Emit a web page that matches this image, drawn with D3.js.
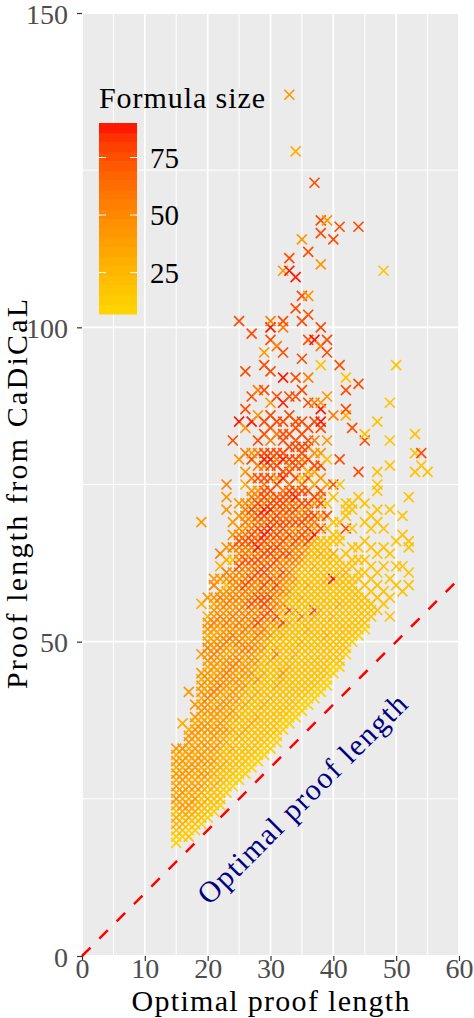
<!DOCTYPE html>
<html>
<head>
<meta charset="utf-8">
<script src="https://cdn.jsdelivr.net/npm/d3@7"></script>
<style>
  body { margin: 0; background: #fff; }
  text { font-family: "Liberation Serif", "Times New Roman", serif; }
</style>
</head>
<body>
<div id="chart"></div>
<script>
// formula size levels
const G = 10, Y = 18, A = 30, O = 42, P = 56, R = 76, D = 88;

const xTicks = [0, 10, 20, 30, 40, 50, 60];
const xMinor = [5, 15, 25, 35, 45, 55];
const yTicks = [0, 50, 100, 150];
const yMinor = [25, 75, 125];
const legendTicks = [25, 50, 75];
const sizeRange = [7, 90];
const refLine = [[0, 0], [60, 60]];

// [optimal proof length, [[proof length from CaDiCaL, formula size], ...]]
const shortProofs = [
  [15, [[18,G],[19,G],[20,Y],[21,A],[22,A],[23,Y],[24,A],[25,O],[26,A],[27,O],[28,A],[29,O],[30,A],[31,O],[32,A],[33,O]]],
  [16, [[19,G],[20,Y],[21,A],[22,Y],[23,A],[24,O],[25,A],[26,O],[27,A],[28,O],[29,O],[30,A],[31,O],[32,A],[33,O],[37,A]]],
  [17, [[19,Y],[20,G],[21,Y],[22,A],[23,A],[24,O],[25,A],[26,A],[27,O],[28,A],[29,O],[30,O],[31,A],[32,O],[33,A],[34,O],[35,O],[36,A],[42,O]]],
  [18, [[20,G],[21,Y],[22,Y],[23,A],[24,A],[25,O],[26,A],[27,O],[28,A],[29,A],[30,O],[31,O],[32,A],[33,O],[34,A],[35,O],[36,O],[37,A],[38,O],[40,O]]],
  [19, [[21,G],[22,Y],[23,Y],[24,A],[25,Y],[26,A],[27,O],[28,A],[29,O],[30,A],[31,O],[32,O],[33,A],[34,O],[35,A],[36,O],[37,O],[38,A],[39,O],[40,O],[41,A],[42,O],[43,O],[44,A],[45,O],[48,O],[56,A],[69,O]]],
  [20, [[22,G],[23,Y],[24,Y],[25,A],[26,Y],[27,A],[28,A],[29,O],[30,A],[31,O],[32,A],[33,O],[34,O],[35,A],[36,O],[37,O],[38,A],[39,O],[40,O],[41,P],[42,O],[43,A],[44,O],[45,O],[46,A],[47,O],[48,O],[49,P],[50,O],[51,A],[52,O],[53,O],[54,A],[57,O]]],
  [21, [[23,G],[24,Y],[25,Y],[26,Y],[27,A],[28,Y],[29,A],[30,A],[31,O],[32,A],[33,O],[34,A],[35,O],[36,O],[37,A],[38,O],[39,O],[40,A],[41,O],[42,P],[43,O],[44,O],[45,A],[46,O],[47,O],[48,P],[49,O],[50,O],[51,A],[52,O],[53,P],[54,O],[55,O],[56,A],[57,O],[59,P],[60,O]]],
  [22, [[24,G],[25,Y],[26,Y],[27,Y],[28,A],[29,Y],[30,A],[31,Y],[32,A],[33,A],[34,O],[35,A],[36,O],[37,O],[38,A],[39,O],[40,O],[41,A],[42,O],[43,P],[44,O],[45,O],[46,A],[47,O],[48,O],[49,P],[50,O],[51,O],[52,A],[53,O],[54,P],[55,O],[56,O],[57,P],[58,O],[60,O],[62,A],[64,P]]]
];

const midProofs = [
  [23, [[26,G],[27,G],[28,Y],[29,Y],[30,Y],[31,A],[32,Y],[33,Y],[34,A],[35,A],[36,O],[37,A],[38,O],[39,A],[40,O],[41,O],[42,A],[43,O],[44,O],[45,P],[46,O],[47,O],[48,A],[49,O],[50,P],[51,O],[52,O],[53,P],[54,O],[55,O],[56,P],[57,O],[58,O],[59,Y],[60,O],[61,P],[63,A],[65,O],[71,O],[73,O],[75,P]]],
  [24, [[27,G],[28,G],[29,Y],[30,Y],[31,Y],[32,Y],[33,A],[34,Y],[35,Y],[36,A],[37,Y],[38,A],[39,O],[40,A],[41,O],[42,O],[43,A],[44,O],[45,O],[46,P],[47,O],[48,O],[49,A],[50,O],[51,P],[52,O],[53,O],[54,P],[55,O],[56,O],[57,P],[58,O],[59,O],[60,P],[61,O],[63,Y],[65,P],[67,O],[69,O],[82,R]]],
  [25, [[28,G],[29,G],[30,Y],[31,Y],[32,Y],[33,Y],[34,Y],[35,A],[36,Y],[37,Y],[38,A],[39,Y],[40,A],[41,O],[42,A],[43,O],[44,O],[45,A],[46,O],[47,P],[48,O],[49,O],[50,P],[51,O],[52,O],[53,P],[54,O],[55,P],[56,O],[57,P],[58,O],[59,P],[60,O],[61,P],[62,R],[63,P],[64,O],[65,P],[66,R],[67,P],[68,O],[70,O],[72,O],[79,O],[85,D],[101,R]]],
  [26, [[29,G],[30,G],[31,Y],[32,Y],[33,Y],[34,Y],[35,Y],[36,A],[37,Y],[38,Y],[39,Y],[40,A],[41,Y],[42,A],[43,O],[44,A],[45,O],[46,O],[47,A],[48,O],[49,P],[50,O],[51,O],[52,P],[53,O],[54,P],[55,O],[56,P],[57,O],[58,P],[59,R],[60,P],[61,O],[62,P],[63,R],[64,P],[65,P],[66,R],[67,P],[68,O],[69,P],[70,O],[71,P],[72,O],[75,A],[77,O],[80,P],[84,O],[87,R],[93,R]]],
  [27, [[30,G],[31,G],[32,Y],[33,Y],[34,Y],[35,Y],[36,Y],[37,A],[38,Y],[39,Y],[40,Y],[41,A],[42,Y],[43,Y],[44,A],[45,O],[46,A],[47,O],[48,O],[49,P],[50,O],[51,A],[52,O],[53,P],[54,O],[55,P],[56,R],[57,P],[58,O],[59,P],[60,R],[61,P],[62,P],[63,R],[64,O],[65,P],[66,R],[67,R],[68,P],[69,O],[70,P],[71,R],[72,O],[73,P],[74,O],[76,P],[79,R],[80,O],[85,D],[89,R],[99,R]]],
  [28, [[31,G],[32,G],[33,Y],[34,Y],[35,Y],[36,Y],[37,Y],[38,A],[39,Y],[40,Y],[41,Y],[42,A],[43,Y],[44,O],[45,Y],[46,A],[47,O],[48,A],[49,O],[50,O],[51,P],[52,O],[53,R],[54,P],[55,O],[56,P],[57,R],[58,P],[59,O],[60,P],[61,R],[62,P],[63,R],[64,P],[65,D],[66,R],[67,P],[68,R],[69,P],[70,R],[71,P],[72,R],[73,P],[74,O],[76,R],[78,P],[80,P],[82,R],[86,O],[90,P]]],
  [29, [[32,G],[33,G],[34,Y],[35,Y],[36,Y],[37,Y],[38,Y],[39,Y],[40,A],[41,Y],[42,Y],[43,Y],[44,Y],[45,A],[46,Y],[47,Y],[48,A],[49,O],[50,A],[51,O],[52,P],[53,O],[54,R],[55,P],[56,R],[57,R],[58,P],[59,R],[60,P],[61,R],[62,R],[63,P],[64,R],[65,P],[66,R],[67,D],[68,R],[69,P],[70,R],[71,D],[72,P],[73,R],[74,R],[75,P],[76,R],[78,P],[79,D],[80,R],[83,R],[85,R],[90,R],[94,R],[96,O]]],
  [30, [[33,G],[34,G],[35,Y],[36,Y],[37,Y],[38,Y],[39,Y],[40,Y],[41,A],[42,Y],[43,Y],[44,Y],[45,Y],[46,Y],[47,A],[48,Y],[49,Y],[50,A],[51,O],[52,A],[53,O],[54,P],[55,R],[56,P],[57,R],[58,P],[59,O],[60,R],[61,P],[62,R],[63,P],[64,R],[65,R],[66,P],[67,R],[68,D],[69,R],[70,P],[71,D],[72,R],[73,P],[74,R],[76,R],[78,R],[79,D],[80,R],[82,P],[84,R],[86,R],[88,O],[93,R],[98,R],[100,D],[101,P]]]
];

const longProofs = [
  [31, [[34,G],[35,G],[36,Y],[37,Y],[38,Y],[39,Y],[40,Y],[41,Y],[42,Y],[43,A],[44,Y],[45,Y],[46,Y],[47,Y],[48,P],[49,A],[50,Y],[51,Y],[52,A],[53,O],[54,R],[55,O],[56,P],[57,O],[58,P],[59,R],[60,P],[61,O],[62,P],[63,R],[64,P],[65,R],[66,P],[67,R],[68,P],[69,R],[70,R],[71,P],[72,R],[73,R],[75,R],[76,O],[78,R],[79,P],[80,R],[83,P],[85,R],[89,R],[97,P]]],
  [32, [[36,G],[37,G],[38,Y],[39,Y],[40,Y],[41,Y],[42,Y],[43,Y],[44,A],[45,O],[46,Y],[47,Y],[48,Y],[49,Y],[50,Y],[51,A],[52,Y],[53,R],[54,Y],[55,A],[56,O],[57,A],[58,P],[59,O],[60,P],[61,R],[62,P],[63,O],[64,R],[65,P],[66,R],[67,P],[68,R],[69,R],[70,P],[71,R],[72,R],[73,R],[74,P],[76,D],[77,R],[79,D],[80,R],[82,R],[83,R],[85,R],[88,D],[92,D],[96,R],[100,P],[101,R],[109,O]]],
  [33, [[37,G],[38,G],[39,Y],[40,Y],[41,Y],[42,Y],[43,Y],[44,Y],[45,Y],[46,A],[47,Y],[48,Y],[49,Y],[50,Y],[51,Y],[52,Y],[53,A],[54,Y],[55,R],[56,Y],[57,A],[58,O],[59,A],[60,O],[61,P],[62,O],[63,P],[64,R],[65,P],[66,O],[67,R],[68,P],[69,R],[70,P],[71,R],[72,P],[73,R],[74,R],[75,P],[77,R],[78,P],[79,R],[81,R],[83,R],[86,R],[89,R],[109,D],[111,R],[137,O]]],
  [34, [[38,G],[39,G],[40,Y],[41,Y],[42,Y],[43,Y],[44,Y],[45,Y],[46,Y],[47,Y],[48,A],[49,Y],[50,Y],[51,Y],[52,Y],[53,Y],[54,Y],[55,A],[56,Y],[57,Y],[58,Y],[59,A],[60,O],[61,A],[62,O],[63,P],[64,O],[65,P],[66,R],[67,P],[68,O],[69,R],[70,P],[71,R],[72,P],[73,D],[74,R],[76,R],[78,R],[79,R],[81,R],[82,R],[84,R],[85,R],[89,R],[92,R],[103,R],[108,D],[128,A]]],
  [35, [[39,G],[40,G],[41,Y],[42,Y],[43,Y],[44,Y],[45,Y],[46,Y],[47,Y],[48,Y],[49,Y],[50,A],[51,Y],[52,Y],[53,Y],[54,P],[55,Y],[56,Y],[57,A],[58,Y],[59,Y],[60,Y],[61,Y],[62,A],[63,O],[64,P],[65,O],[66,P],[67,R],[68,P],[69,R],[70,P],[71,O],[72,R],[74,R],[75,P],[76,Y],[78,R],[79,P],[80,R],[81,R],[83,R],[85,R],[90,R],[95,R],[101,R],[105,R],[114,O]]],
  [36, [[40,G],[41,G],[42,Y],[43,Y],[44,Y],[45,Y],[46,Y],[47,Y],[48,Y],[49,Y],[50,Y],[51,Y],[52,A],[53,Y],[54,Y],[55,Y],[56,Y],[57,Y],[58,Y],[59,A],[60,Y],[61,Y],[62,Y],[63,Y],[64,A],[65,O],[66,R],[67,P],[68,R],[69,P],[70,R],[71,P],[72,R],[74,R],[76,R],[77,A],[79,R],[81,R],[82,R],[84,R],[88,R],[92,P],[98,R],[102,R],[105,O],[112,R]]],
  [37, [[41,G],[42,G],[43,Y],[44,Y],[45,Y],[46,Y],[47,Y],[48,Y],[49,Y],[50,Y],[51,Y],[52,Y],[53,Y],[54,A],[55,R],[56,Y],[57,Y],[58,Y],[59,Y],[60,Y],[61,Y],[62,A],[63,Y],[64,Y],[65,Y],[66,A],[67,D],[68,O],[69,P],[70,R],[72,O],[73,R],[75,A],[77,A],[78,R],[80,O],[82,P],[85,R],[88,P],[98,D],[123,R]]],
  [38, [[42,G],[43,G],[44,Y],[45,Y],[46,Y],[47,Y],[48,Y],[49,Y],[50,Y],[51,Y],[52,Y],[53,Y],[54,Y],[55,A],[56,Y],[57,Y],[58,Y],[59,Y],[60,Y],[61,Y],[62,Y],[63,Y],[64,A],[65,Y],[66,Y],[68,R],[70,O],[72,R],[73,P],[74,R],[76,O],[78,R],[80,O],[84,R],[85,D],[87,D],[88,O],[94,Y],[97,P],[100,R],[110,O],[115,R],[117,R]]]
];

const longestProofs = [
  [39, [[43,G],[44,G],[45,Y],[46,Y],[47,Y],[48,Y],[49,Y],[50,Y],[51,A],[52,Y],[53,Y],[54,Y],[55,Y],[56,Y],[57,Y],[58,Y],[59,Y],[60,A],[61,Y],[62,Y],[63,Y],[64,Y],[65,Y],[66,Y],[68,A],[70,R],[72,Y],[75,A],[79,Y],[82,O],[89,O],[96,R],[98,R],[117,O]]],
  [40, [[45,G],[46,G],[47,Y],[48,Y],[49,Y],[50,Y],[51,Y],[52,Y],[53,Y],[54,A],[55,Y],[56,Y],[57,Y],[58,Y],[59,Y],[60,D],[61,Y],[62,Y],[63,Y],[64,A],[66,Y],[67,Y],[69,Y],[73,Y],[75,R],[86,P],[114,R]]],
  [41, [[46,G],[47,Y],[48,Y],[49,Y],[50,Y],[51,Y],[52,Y],[53,Y],[54,Y],[55,Y],[56,A],[57,Y],[58,Y],[59,Y],[60,Y],[61,Y],[62,Y],[63,Y],[66,Y],[67,Y],[69,Y],[75,Y],[79,R],[94,R],[116,R]]],
  [42, [[48,G],[49,Y],[50,Y],[51,Y],[52,Y],[53,Y],[54,Y],[55,Y],[56,Y],[57,Y],[58,Y],[59,Y],[60,Y],[61,A],[62,Y],[64,Y],[68,R],[70,Y],[71,Y],[72,Y],[86,A],[87,R],[90,R],[92,Y]]],
  [43, [[50,G],[51,Y],[52,Y],[53,Y],[54,Y],[55,Y],[56,Y],[57,Y],[58,Y],[59,Y],[60,Y],[62,Y],[63,Y],[65,Y],[68,Y],[71,Y],[72,Y],[84,R]]],
  [44, [[51,G],[52,Y],[53,Y],[54,Y],[55,Y],[56,Y],[57,Y],[58,Y],[60,Y],[61,Y],[63,Y],[65,Y],[73,Y],[77,R],[91,R],[116,R]]],
  [45, [[52,G],[53,Y],[54,Y],[55,Y],[56,Y],[57,Y],[59,Y],[61,Y],[63,Y],[66,Y],[69,Y],[72,Y],[82,R],[83,Y]]],
  [46, [[54,Y],[55,Y],[56,Y],[58,Y],[60,Y],[62,Y],[65,Y],[68,Y],[70,Y]]],
  [47, [[55,Y],[57,Y],[59,Y],[61,Y],[64,Y],[69,Y],[71,Y],[74,Y],[75,Y],[77,Y],[85,Y]]],
  [48, [[56,Y],[58,Y],[62,Y],[65,Y],[68,Y],[109,Y]]],
  [49, [[54,Y],[57,Y],[60,Y],[64,Y],[71,Y],[78,Y],[82,Y],[88,Y]]],
  [50, [[59,Y],[62,Y],[66,Y],[94,Y]]],
  [51, [[58,Y],[62,Y],[67,Y],[70,Y]]],
  [52, [[59,Y],[61,Y],[65,Y],[66,Y],[73,Y]]],
  [53, [[77,Y],[80,Y],[83,Y]]],
  [54, [[78,Y],[80,R]]],
  [55, [[77,Y]]]
];

/////////////////////////////////////

var width = 474, height = 1018;
var panel = { left: 82, right: 459, top: 13, bottom: 956 };

var x = d3.scaleLinear().domain([0, 60]).range([panel.left, panel.right]);
var y = d3.scaleLinear().domain([0, 150]).range([panel.bottom, panel.top]);
var color = d3.scaleLinear().domain(sizeRange).range(["gold", "red"]).interpolate(d3.interpolateLab);

var points = [].concat(shortProofs, midProofs, longProofs, longestProofs)
    .flatMap(function(col) {
        return col[1].map(function(p) { return { opt: col[0], cad: p[0], size: p[1] }; });
    });

var svg = d3.select("#chart").append("svg")
    .attr("width", width).attr("height", height);

// panel background
svg.append("rect")
    .attr("x", panel.left).attr("y", panel.top)
    .attr("width", panel.right - panel.left).attr("height", panel.bottom - panel.top)
    .attr("fill", "#EBEBEB");

// grid lines
var grid = svg.append("g").attr("stroke", "#fff");
grid.selectAll(".xminor").data(xMinor).enter().append("line")
    .attr("x1", x).attr("x2", x).attr("y1", panel.top).attr("y2", panel.bottom)
    .attr("stroke-width", 1);
grid.selectAll(".yminor").data(yMinor).enter().append("line")
    .attr("y1", y).attr("y2", y).attr("x1", panel.left).attr("x2", panel.right)
    .attr("stroke-width", 1);
grid.selectAll(".xmajor").data(xTicks).enter().append("line")
    .attr("x1", x).attr("x2", x).attr("y1", panel.top).attr("y2", panel.bottom)
    .attr("stroke-width", 1.8);
grid.selectAll(".ymajor").data(yTicks).enter().append("line")
    .attr("y1", y).attr("y2", y).attr("x1", panel.left).attr("x2", panel.right)
    .attr("stroke-width", 1.8);

// crosses
var cross = "M-5,-5L5,5M-5,5L5,-5";
svg.append("g").selectAll("path").data(points).enter().append("path")
    .attr("d", cross)
    .attr("transform", function(d) { return "translate(" + x(d.opt) + "," + y(d.cad) + ")"; })
    .attr("fill", "none")
    .attr("stroke", function(d) { return color(d.size); })
    .attr("stroke-width", 1.7);

// y = x reference line
svg.append("path")
    .datum(refLine)
    .attr("d", d3.line().x(function(d) { return x(d[0]); }).y(function(d) { return y(d[1]); }))
    .attr("stroke", "#FF0000").attr("stroke-width", 2.5)
    .attr("stroke-dasharray", "12,12.5").attr("fill", "none");

svg.append("text")
    .attr("transform", "translate(" + x(35) + "," + y(25) + ") rotate(-45)")
    .attr("text-anchor", "middle").attr("dy", "0.35em")
    .attr("font-size", 30).attr("fill", "#000080")
    .attr("textLength", 283).attr("lengthAdjust", "spacing")
    .text("Optimal proof length");

// axes
var xAxis = svg.append("g")
    .attr("transform", "translate(0," + panel.bottom + ")")
    .call(d3.axisBottom(x).tickValues(xTicks).tickSize(5).tickFormat(d3.format("d")));
xAxis.selectAll("text").attr("y", 2).attr("dy", "0.71em");

var yAxis = svg.append("g")
    .attr("transform", "translate(" + panel.left + ",0)")
    .call(d3.axisLeft(y).tickValues(yTicks).tickSize(5).tickPadding(9).tickFormat(d3.format("d")));

[xAxis, yAxis].forEach(function(ax) {
    ax.select(".domain").remove();
    ax.selectAll("line").attr("stroke", "#333").attr("stroke-width", 1.2);
    ax.selectAll("text")
        .attr("fill", "#4D4D4D")
        .attr("font-size", 28)
        .attr("font-family", '"Liberation Serif", serif');
});
// keep the top label inside the page
yAxis.selectAll("text").attr("dy", "0.36em");

// axis titles
svg.append("text")
    .attr("x", (panel.left + panel.right) / 2).attr("y", 1011)
    .attr("text-anchor", "middle").attr("font-size", 30)
    .attr("textLength", 278).attr("lengthAdjust", "spacing")
    .text("Optimal proof length");

svg.append("text")
    .attr("transform", "translate(27,494) rotate(-90)")
    .attr("text-anchor", "middle").attr("font-size", 30)
    .attr("textLength", 390).attr("lengthAdjust", "spacing")
    .text("Proof length from CaDiCaL");

// legend
var legend = svg.append("g");
legend.append("text")
    .attr("x", 99).attr("y", 108).attr("font-size", 30)
    .attr("textLength", 166).attr("lengthAdjust", "spacing")
    .text("Formula size");

var bar = { left: 99, right: 137, top: 123, bottom: 314 };
var ly = d3.scaleLinear().domain(sizeRange).range([bar.bottom, bar.top]);
var nbin = 20;
var binEdges = d3.range(nbin + 1).map(function(i) {
    return sizeRange[0] + (sizeRange[1] - sizeRange[0]) * i / nbin;
});
legend.selectAll(".bin").data(binEdges.slice(0, nbin)).enter().append("rect")
    .attr("x", bar.left).attr("width", bar.right - bar.left)
    .attr("y", function(d, i) { return ly(binEdges[i + 1]); })
    .attr("height", function(d, i) { return ly(binEdges[i]) - ly(binEdges[i + 1]) + 0.5; })
    .attr("fill", function(d, i) { return color((binEdges[i] + binEdges[i + 1]) / 2); });

legendTicks.forEach(function(v) {
    legend.append("line").attr("x1", bar.left).attr("x2", bar.left + 7)
        .attr("y1", ly(v)).attr("y2", ly(v)).attr("stroke", "#fff").attr("stroke-width", 1);
    legend.append("line").attr("x1", bar.right - 7).attr("x2", bar.right)
        .attr("y1", ly(v)).attr("y2", ly(v)).attr("stroke", "#fff").attr("stroke-width", 1);
    legend.append("text")
        .attr("x", 150).attr("y", ly(v)).attr("dy", "0.35em")
        .attr("font-size", 29)
        .text(v);
});
</script>
</body>
</html>
